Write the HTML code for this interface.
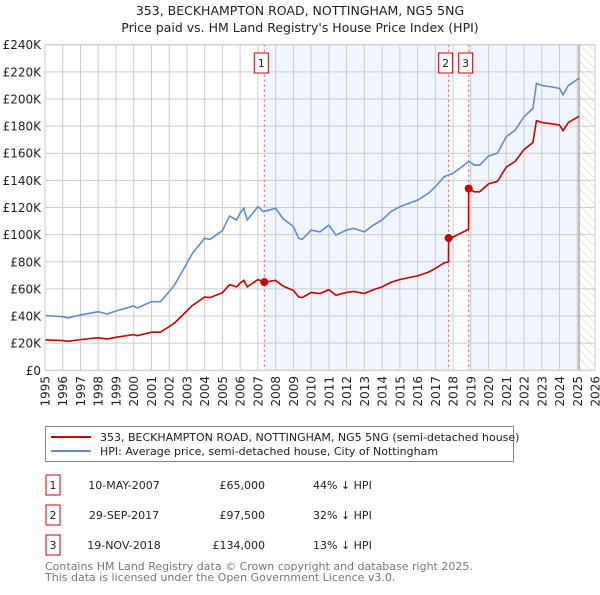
<!DOCTYPE html>
<html><head><meta charset="utf-8"><style>
body{margin:0;background:#fff;font-family:"Liberation Sans","DejaVu Sans",sans-serif;}
svg text{font-family:"DejaVu Sans","Liberation Sans",sans-serif;}
</style></head><body>
<svg id="chart" width="600" height="590" viewBox="0 0 600 590" xmlns="http://www.w3.org/2000/svg">
<defs>
<pattern id="hatch" width="6" height="6" patternUnits="userSpaceOnUse" patternTransform="rotate(-45)">
<line x1="0" y1="0" x2="0" y2="6" stroke="#ccc" stroke-width="1"/></pattern>
</defs>
<text x="300" y="15" text-anchor="middle" font-size="12.5" fill="#222">353, BECKHAMPTON ROAD, NOTTINGHAM, NG5 5NG</text>
<text x="300" y="32" text-anchor="middle" font-size="12.5" fill="#222">Price paid vs. HM Land Registry's House Price Index (HPI)</text>
<g id="plot"></g>
<rect x="45.5" y="426.5" width="468" height="35" fill="#fff" stroke="#888"/>
<line x1="51" y1="437" x2="91" y2="437" stroke="#cc0000" stroke-width="2"/>
<text x="100" y="441" font-size="11" fill="#222">353, BECKHAMPTON ROAD, NOTTINGHAM, NG5 5NG (semi-detached house)</text>
<line x1="51" y1="451" x2="91" y2="451" stroke="#5b8fd4" stroke-width="2"/>
<text x="100" y="455" font-size="11" fill="#222">HPI: Average price, semi-detached house, City of Nottingham</text>
<g font-size="11" fill="#222">
<rect x="46" y="475" width="14" height="20" fill="#fff" stroke="#cc0000"/><text x="53" y="489" text-anchor="middle">1</text>
<text x="124" y="489" text-anchor="middle">10-MAY-2007</text>
<text x="265" y="489" text-anchor="end">£65,000</text>
<text x="313" y="489">44% ↓ HPI</text>
<rect x="46" y="505" width="14" height="20" fill="#fff" stroke="#cc0000"/><text x="53" y="519" text-anchor="middle">2</text>
<text x="124" y="519" text-anchor="middle">29-SEP-2017</text>
<text x="265" y="519" text-anchor="end">£97,500</text>
<text x="313" y="519">32% ↓ HPI</text>
<rect x="46" y="535" width="14" height="20" fill="#fff" stroke="#cc0000"/><text x="53" y="549" text-anchor="middle">3</text>
<text x="124" y="549" text-anchor="middle">19-NOV-2018</text>
<text x="265" y="549" text-anchor="end">£134,000</text>
<text x="313" y="549">13% ↓ HPI</text>
</g>
<text x="45" y="570" font-size="11" fill="#777">Contains HM Land Registry data © Crown copyright and database right 2025.</text>
<text x="45" y="581" font-size="11" fill="#777">This data is licensed under the Open Government Licence v3.0.</text>
</svg>
<script>
const yTicks=[0,20,40,60,80,100,120,140,160,180,200,220,240];
const yLabels=["£0","£20K","£40K","£60K","£80K","£100K","£120K","£140K","£160K","£180K","£200K","£220K","£240K"];
const xYears=[1995,1996,1997,1998,1999,2000,2001,2002,2003,2004,2005,2006,2007,2008,2009,2010,2011,2012,2013,2014,2015,2016,2017,2018,2019,2020,2021,2022,2023,2024,2025,2026];
const hpiT=[1995,1996,1996.3,1997,1998,1998.5,1999,2000,2000.2,2001,2001.5,2002,2002.3,2003,2003.3,2004,2004.3,2005,2005.4,2005.8,2006,2006.2,2006.4,2007,2007.3,2008,2008.4,2009,2009.3,2009.5,2010,2010.5,2011,2011.4,2012,2012.4,2013,2013.5,2014,2014.5,2015,2015.5,2016,2016.6,2017,2017.5,2017.75,2018,2018.5,2018.88,2019.2,2019.5,2020,2020.5,2021,2021.5,2022,2022.5,2022.7,2023,2023.5,2024,2024.2,2024.5,2025.1];
const hpiV=[40.3,39.5,38.6,40.8,43.2,41.5,43.7,47.4,45.9,50.6,50.6,58,62.9,78.9,86,97.3,96.5,103,113.7,110.8,116,119.4,110.8,120.6,117,119.4,112,105.9,97.3,96.5,103.4,102,107,99.7,103.4,104.6,102,107,110.8,117,120.6,123,125.4,130.3,135.3,142.7,144,145.2,150,154,151.3,151.3,157.9,160,172.2,177,187,193,211.5,210,209,207.8,203,210,215.2];
const propT=[1995,1996,1996.3,1997,1998,1998.5,1999,2000,2000.2,2001,2001.5,2002,2002.3,2003,2003.3,2004,2004.3,2005,2005.4,2005.8,2006,2006.2,2006.4,2007,2007.36,2008,2008.4,2009,2009.3,2009.5,2010,2010.5,2011,2011.4,2012,2012.4,2013,2013.5,2014,2014.5,2015,2015.5,2016,2016.6,2017,2017.5,2017.74,2017.75,2018,2018.5,2018.87,2018.88,2019.2,2019.5,2020,2020.5,2021,2021.5,2022,2022.5,2022.7,2023,2023.5,2024,2024.2,2024.5,2025.1];
const propV=[22.4,21.9,21.4,22.6,24,23,24.3,26.3,25.5,28.1,28.1,32.2,34.9,43.8,47.7,54,53.6,57.2,63.1,61.5,64.4,66.3,61.5,66.9,65,66.3,62.2,58.8,54,53.6,57.4,56.6,59.4,55.3,57.4,58.1,56.6,59.4,61.5,64.9,66.9,68.3,69.6,72.3,75.1,79.2,79.8,97.5,98.3,101.5,104,134,131.6,131.6,137.4,139.2,149.8,154,162.7,167.9,184,182.7,181.8,180.8,176.6,182.7,187.2];
const saleT=[2007.36,2017.75,2018.88];
const saleV=[65,97.5,134];
const saleLabels=["1","2","3"];
const shadeStart=[2007.36,2018.88];
const shadeEnd=[2017.75,2025.1];
const dataEnd=2025.1;

const L=45,R=595,T=44.7,B=370.3,X0=1995,X1=2026,YMAX=240;
const sx=t=>L+(t-X0)*(R-L)/(X1-X0);
const sy=v=>B-v*(B-T)/YMAX;
const NS="http://www.w3.org/2000/svg";
const g=document.getElementById('plot');
function mk(tag,attrs,parent){const e=document.createElementNS(NS,tag);for(const k in attrs)e.setAttribute(k,attrs[k]);(parent||g).appendChild(e);return e;}

const bg=mk('rect',{x:L,y:T,width:R-L,height:B-T,fill:'#fff'});


for(let i=0;i<shadeStart.length;i++){
  const s=mk('rect',{x:sx(shadeStart[i]),y:T,width:sx(shadeEnd[i])-sx(shadeStart[i]),height:B-T,fill:'#eef3fc',opacity:0.8});
  
  
}
const h=mk('rect',{x:sx(dataEnd),y:T,width:R-sx(dataEnd),height:B-T,fill:'url(#hatch)'});


yTicks.forEach((v,i)=>{
  const ln=mk('line',{x1:L,x2:R,y1:sy(v),y2:sy(v),stroke:'#ccc','stroke-width':1});
  
  
  const tx=mk('text',{x:L-4,y:sy(v)+4.5,'text-anchor':'end','font-size':12,fill:'#222'});
  tx.textContent=yLabels[i];
  
  
});
xYears.forEach(y=>{
  const ln=mk('line',{x1:sx(y),x2:sx(y),y1:T,y2:B,stroke:'#ccc','stroke-width':1});
  
  
  const tx=mk('text',{x:sx(y)+4.5,y:376,'text-anchor':'end','font-size':12,fill:'#222',transform:`rotate(-90 ${sx(y)+4.5} 376)`});
  tx.textContent=y;
  
  
});
const endLine=mk('line',{x1:sx(dataEnd),x2:sx(dataEnd),y1:T,y2:B,stroke:'#999','stroke-width':1.2});


saleT.forEach((t,i)=>{
  const ln=mk('line',{x1:sx(t),x2:sx(t),y1:T,y2:B,stroke:'#e55','stroke-width':1,'stroke-dasharray':'2,3'});
  
  
});
const hp=mk('polyline',{points:hpiT.map((t,i)=>sx(t)+','+sy(hpiV[i])).join(' '),fill:'none',stroke:'#5b8fd4','stroke-width':1.6});


const pp=mk('polyline',{points:propT.map((t,i)=>sx(t)+','+sy(propV[i])).join(' '),fill:'none',stroke:'#cc0000','stroke-width':1.6});


saleT.forEach((t,i)=>{
  const c=mk('circle',{cx:sx(t),cy:sy(saleV[i]),r:4,fill:'#cc0000'});
  
  
  const bx=sx(t)-3;
  const r=mk('rect',{x:bx-7,y:53,width:14,height:20,fill:'#fff',stroke:'#cc0000'});
  
  
  const tx=mk('text',{x:bx,y:67,'text-anchor':'middle','font-size':11,fill:'#222'});
  tx.textContent=saleLabels[i];
  
  
});
const fr=mk('rect',{x:L,y:T,width:R-L,height:B-T,fill:'none',stroke:'#ccc'});


</script>
</body></html>
